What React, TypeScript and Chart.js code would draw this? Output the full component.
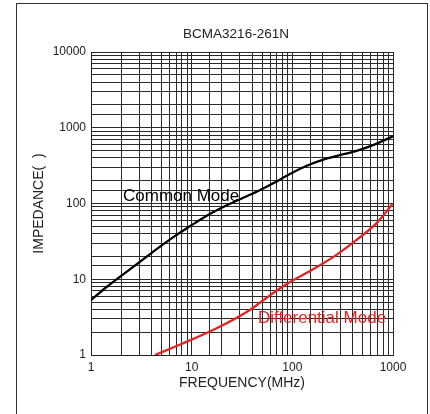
import React, { useEffect, useRef } from "react";
import { Chart, registerables } from "chart.js";

Chart.register(...registerables);

const chartTitle = "BCMA3216-261N";
const xTitle = "FREQUENCY(MHz)";
const yTitle = "IMPEDANCE(  )";

const commonFreq = [1, 1.43, 2.09, 3.07, 4.49, 6.57, 9.6, 14.1, 20.6, 30.2, 44.2, 64.6, 94.6, 139, 203, 297, 435, 632, 1000];
const commonZ = [5.3, 7.9, 11.6, 17, 25, 36, 50, 69, 90, 114, 143, 185, 245, 315, 380, 435, 495, 590, 770];

const diffFreq = [4.32, 8.26, 17.7, 37.9, 55.6, 81.2, 174, 275, 435, 687, 1000];
const diffZ = [1.0, 1.43, 2.25, 3.93, 5.7, 8.1, 14.4, 21, 33, 55, 100];

const seriesLabels = ["Common Mode", "Differential Mode"];
const labelAnchorX = [2.08, 45.5];
const labelAnchorY = [108, 2.65];

const seriesColors = ["#000000", "#e32222"];

const FONT = "'Liberation Sans', Arial, Helvetica, sans-serif";

export default function App() {
  const canvasRef = useRef<HTMLCanvasElement | null>(null);

  useEffect(() => {
    const canvas = canvasRef.current;
    if (!canvas) return;

    const textPlugin = {
      id: "textPlugin",
      afterDraw(chart: any) {
        const ctx = chart.ctx;
        const xs = chart.scales.x;
        const ys = chart.scales.y;
        const area = chart.chartArea;
        ctx.save();
        ctx.font = `13.5px ${FONT}`;
        ctx.fillStyle = "#222";
        ctx.textAlign = "center";
        ctx.textBaseline = "alphabetic";
        ctx.fillText(chartTitle, (area.left + area.right) / 2 - 6, 38.3);
        ctx.font = `17px ${FONT}`;
        ctx.textAlign = "left";
        for (let i = 0; i < seriesLabels.length; i++) {
          ctx.fillStyle = seriesColors[i];
          ctx.fillText(
            seriesLabels[i],
            xs.getPixelForValue(labelAnchorX[i]),
            ys.getPixelForValue(labelAnchorY[i])
          );
        }
        ctx.restore();
      },
    };

    const isPow10 = (v: number) => {
      const l = Math.log10(v);
      return Math.abs(l - Math.round(l)) < 1e-9;
    };

    const chart = new Chart(canvas, {
      type: "line",
      data: {
        datasets: [
          {
            label: seriesLabels[0],
            data: commonFreq.map((f, i) => ({ x: f, y: commonZ[i] })),
            borderColor: seriesColors[0],
            borderWidth: 2.3,
            pointRadius: 0,
            cubicInterpolationMode: "monotone",
            fill: false,
          },
          {
            label: seriesLabels[1],
            data: diffFreq.map((f, i) => ({ x: f, y: diffZ[i] })),
            borderColor: seriesColors[1],
            borderWidth: 2.3,
            pointRadius: 0,
            cubicInterpolationMode: "monotone",
            fill: false,
          },
        ],
      },
      options: {
        animation: false,
        responsive: false,
        maintainAspectRatio: false,
        layout: { padding: { left: 0, right: 37, top: 52, bottom: 0 } },
        plugins: {
          legend: { display: false },
          title: { display: false },
          tooltip: { enabled: false },
        },
        scales: {
          x: {
            type: "logarithmic",
            min: 1,
            max: 1000,
            afterFit: (s: any) => {
              s.height = 59;
            },
            border: { display: true, color: "#222", width: 1 },
            grid: { color: "#2a2a2a", lineWidth: 1, drawTicks: false },
            ticks: {
              autoSkip: false,
              maxRotation: 0,
              padding: 5,
              color: "#222",
              font: { family: FONT, size: 12 },
              callback: (v: any) => (isPow10(Number(v)) ? String(v) : ""),
            },
            title: {
              display: true,
              text: xTitle,
              color: "#222",
              font: { family: FONT, size: 14 },
              padding: { top: 0, bottom: 22 },
            },
          },
          y: {
            type: "logarithmic",
            min: 1,
            max: 10000,
            afterFit: (s: any) => {
              s.width = 91;
            },
            border: { display: true, color: "#222", width: 1 },
            grid: { color: "#2a2a2a", lineWidth: 1, drawTicks: false },
            ticks: {
              autoSkip: false,
              padding: 5,
              color: "#222",
              font: { family: FONT, size: 12 },
              callback: (v: any) => (isPow10(Number(v)) ? String(v) : ""),
            },
            title: {
              display: true,
              text: yTitle,
              color: "#222",
              font: { family: FONT, size: 14 },
              padding: { top: 31, bottom: 0 },
            },
          },
        },
      },
      plugins: [textPlugin],
    } as any);

    return () => chart.destroy();
  }, []);

  return (
    <div
      style={{
        position: "fixed",
        left: 0,
        top: 0,
        width: 430,
        height: 414,
        background: "#fff",
        overflow: "hidden",
      }}
    >
      <div
        style={{
          position: "absolute",
          left: 16,
          top: 3,
          width: 410,
          height: 440,
          border: "1px solid #333",
        }}
      />
      <canvas
        ref={canvasRef}
        width={430}
        height={414}
        style={{ position: "absolute", left: 0, top: 0, width: 430, height: 414 }}
      />
    </div>
  );
}
